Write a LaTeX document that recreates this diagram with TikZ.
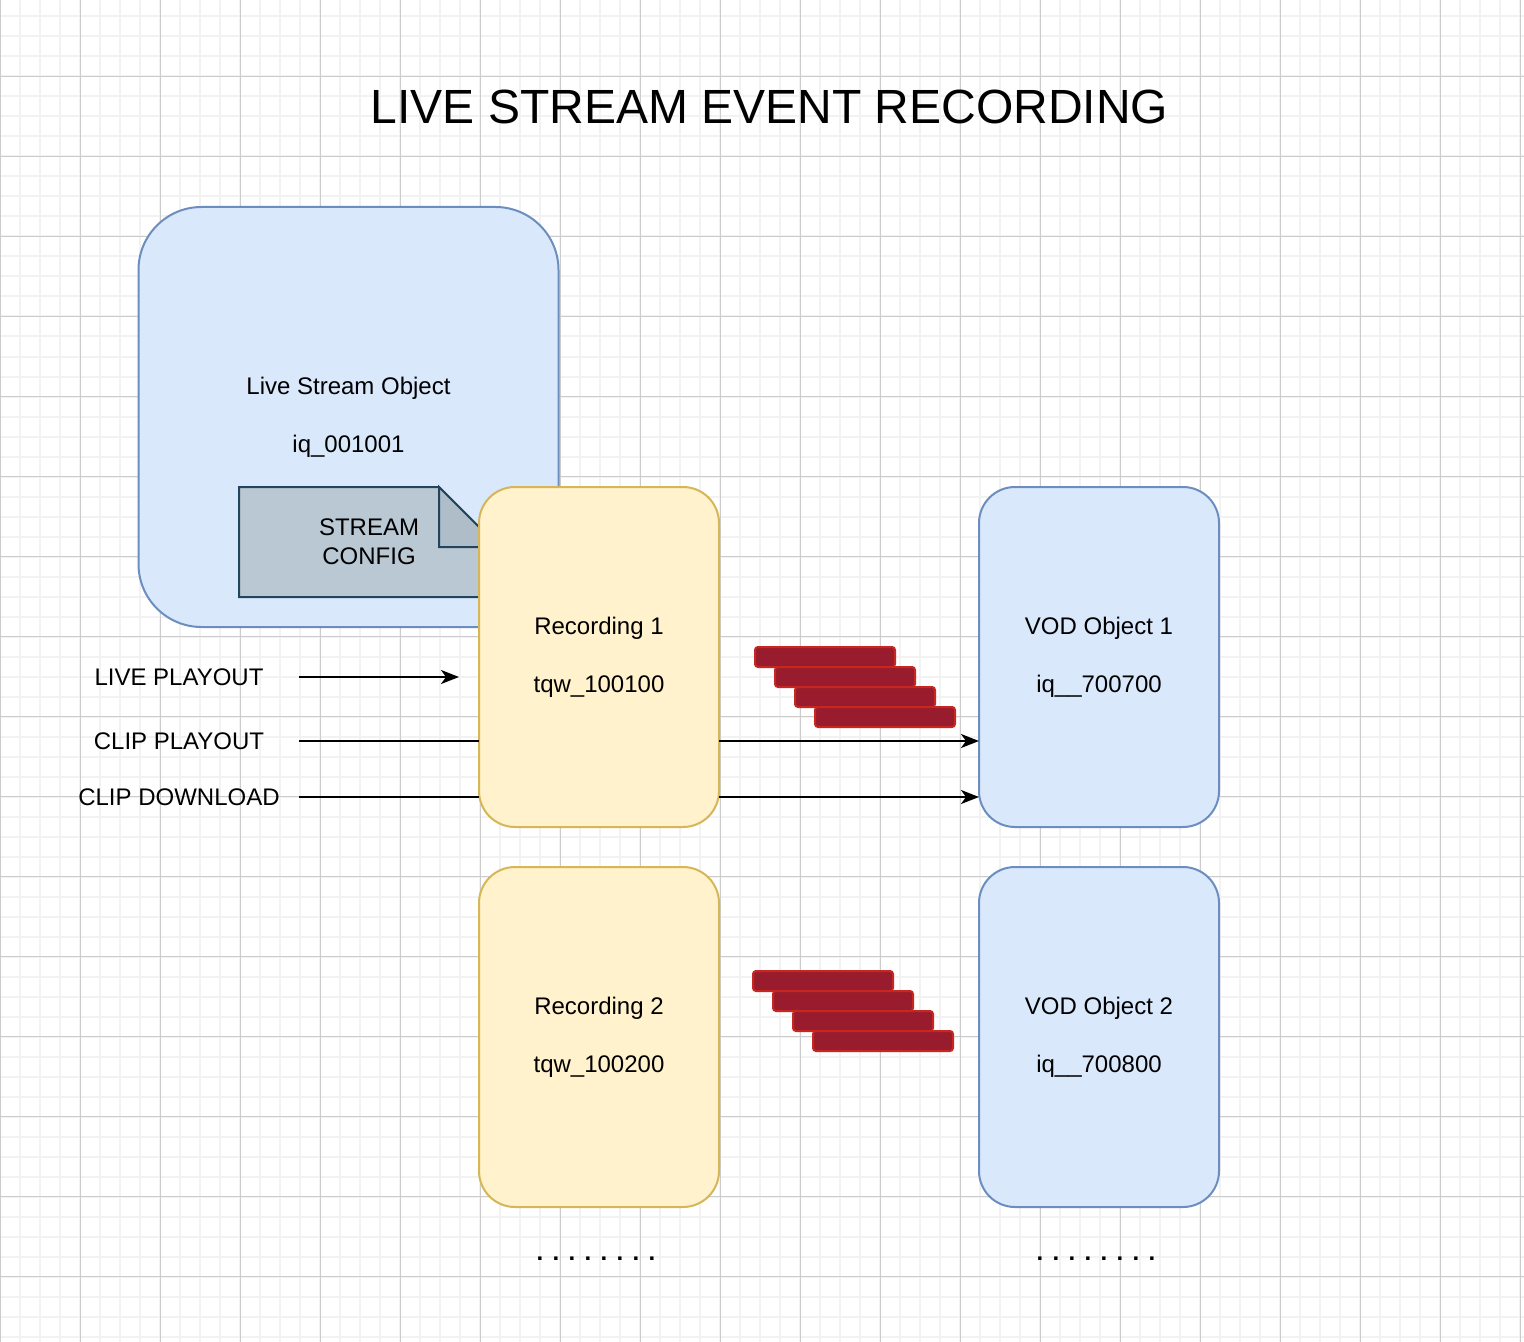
\documentclass[tikz,border=0pt]{standalone}
\usepackage{fontspec}
\setmainfont{Liberation Sans}
\usepackage{xcolor}
\usepackage{tikz}
\usetikzlibrary{shapes,arrows.meta,positioning,calc}

\definecolor{objfill}{HTML}{DAE8FC}
\definecolor{objline}{HTML}{6C8EBF}
\definecolor{recfill}{HTML}{FFF2CC}
\definecolor{recline}{HTML}{D6B656}
\definecolor{cfgfill}{HTML}{BAC8D3}
\definecolor{cfgfold}{HTML}{AFBDC8}
\definecolor{cfgline}{HTML}{23445D}
\definecolor{chunkfill}{RGB}{152,28,45}
\definecolor{chunkline}{RGB}{200,38,32}
\definecolor{gridminor}{RGB}{242,242,242}
\definecolor{gridmajor}{RGB}{204,204,204}

\begin{document}
\begin{tikzpicture}[x=0.5pt, y=-0.5pt,
    every node/.style={font=\fontsize{12}{14.4}\selectfont, inner sep=0pt, outer sep=0pt},
    liveobj/.style={draw=objline, fill=objfill, line width=1pt, rounded corners=31.5pt,
        minimum width=210pt, minimum height=210pt, align=center},
    recbox/.style={draw=recline, fill=recfill, line width=1pt, rounded corners=18pt,
        minimum width=120pt, minimum height=170pt, align=center},
    vodbox/.style={recbox, draw=objline, fill=objfill},
    chunk/.style={draw=chunkline, fill=chunkfill, line width=1pt, rounded corners=1.5pt,
        minimum width=70pt, minimum height=10pt},
    feed/.style={minimum width=120pt},
    more/.style={font=\fontsize{12}{14.4}\selectfont\bfseries},
    plain/.style={line width=1pt},
    flow/.style={plain, -{Stealth[length=9pt, width=7pt, inset=2.5pt]}}
]
    % Page and grid
    \fill[white] (0,0) rectangle (1524,1342);
    \useasboundingbox (0,0) rectangle (1524,1342);
    \foreach \x in {0,20,...,1520}
        \draw[gridminor, line width=1pt] (\x,0) -- (\x,1342);
    \foreach \y in {16.5,36.5,...,1336.5}
        \draw[gridminor, line width=1pt] (0,\y) -- (1524,\y);
    \foreach \x in {0,80,...,1520}
        \draw[gridmajor, line width=0.5pt] (\x,0) -- (\x,1342);
    \foreach \y in {76.5,156.5,...,1276.5}
        \draw[gridmajor, line width=0.5pt] (0,\y) -- (1524,\y);

    % Title
    \node[font=\fontsize{24}{28.8}\selectfont, anchor=base] (title) at (769.5,124) {LIVE STREAM EVENT RECORDING};

    % Live stream object with its config note
    \node[liveobj] (live) at (348.5,417) {Live Stream Object\\[14.4pt]iq\_001001};
    \node[minimum width=130pt, minimum height=55pt] (cfg) at (369,542) {};
    \filldraw[draw=cfgline, fill=cfgfill, line width=1pt]
        (cfg.north west) -- ([xshift=-30pt]cfg.north east) -- ([yshift=-30pt]cfg.north east)
        -- (cfg.south east) -- (cfg.south west) -- cycle;
    \filldraw[draw=cfgline, fill=cfgfold, line width=1pt]
        ([xshift=-30pt]cfg.north east) -- ([xshift=-30pt, yshift=-30pt]cfg.north east)
        -- ([yshift=-30pt]cfg.north east) -- cycle;
    \node[align=center] (cfgtext) at (cfg) {STREAM\\CONFIG};

    % Recordings and VOD objects
    \node[recbox] (rec1) at (599,657) {Recording 1\\[14.4pt]tqw\_100100};
    \node[recbox] (rec2) at (599,1037) {Recording 2\\[14.4pt]tqw\_100200};
    \node[vodbox] (vod1) at (1099,657) {VOD Object 1\\[14.4pt]iq\_\_700700};
    \node[vodbox] (vod2) at (1099,1037) {VOD Object 2\\[14.4pt]iq\_\_700800};

    % Playout labels
    \node[feed] (lplay) at (179,677) {LIVE PLAYOUT};
    \node[feed] (cplay) at (179,741) {CLIP PLAYOUT};
    \node[feed] (cdown) at (179,797) {CLIP DOWNLOAD};

    % Connectors
    \draw[flow] (lplay.east) -- ($(rec1.west |- lplay.east)+(-20,0)$);
    \draw[plain] (cplay.east) -- (cplay.east -| rec1.west);
    \draw[flow] (cplay.east -| rec1.east) -- (cplay.east -| vod1.west);
    \draw[plain] (cdown.east) -- (cdown.east -| rec1.west);
    \draw[flow] (cdown.east -| rec1.east) -- (cdown.east -| vod1.west);

    % Media chunks
    \foreach \i in {0,...,3} {
        \node[chunk] (chunka\i) at (825+20*\i, 657+20*\i) {};
        \node[chunk] (chunkb\i) at (823+20*\i, 981+20*\i) {};
    }

    % More to come
    \node[more] (recmore) at (596,1259) {\spaceskip=4.66pt\xspaceskip=4.66pt\relax . . . . . . . .};
    \node[more] (vodmore) at (1096,1259) {\spaceskip=4.66pt\xspaceskip=4.66pt\relax . . . . . . . .};
\end{tikzpicture}
\end{document}
